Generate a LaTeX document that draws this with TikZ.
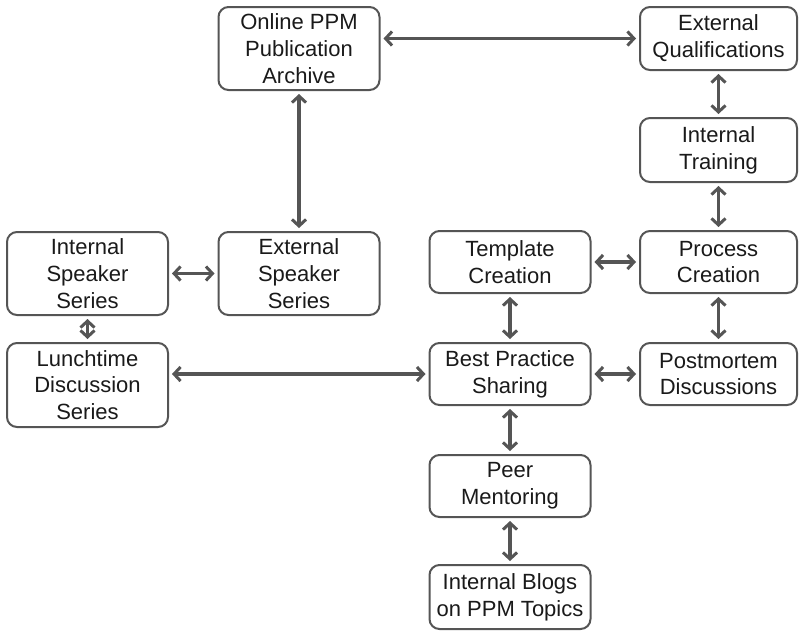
\documentclass[tikz,border=0pt]{standalone}
\usepackage{fontspec}
\setmainfont{Liberation Sans}
\usetikzlibrary{arrows.meta}
\definecolor{edgegray}{HTML}{555555}
\definecolor{inkgray}{HTML}{1A1A1A}
\begin{document}
\begin{tikzpicture}[x=1pt,y=-1pt,
  box/.style={draw=edgegray, line width=2pt, rounded corners=10pt, fill=white,
    text=inkgray, align=center, inner sep=0pt, minimum width=161pt,
    font=\fontsize{22}{26.8}\selectfont},
  wide/.style={box, minimum width=161pt},
  narrow/.style={box, minimum width=157pt},
  link/.style={draw=edgegray, line width=3.5pt,
    {Straight Barb[length=6.5pt,width=14pt,line width=3pt]}-{Straight Barb[length=6.5pt,width=14pt,line width=3pt]},
    shorten <=3pt, shorten >=3pt}]
\useasboundingbox (0,0) rectangle (800,630);

% first column
\node[wide, minimum height=83pt] (iss) at (87.5,273.5) {Internal\\Speaker\\Series};
\node[wide, minimum height=84pt] (lds) at (87.5,385) {Lunchtime\\Discussion\\Series};

% second column
\node[wide, minimum height=83pt] (opa) at (299,48.5) {Online PPM\\Publication\\Archive};
\node[wide, minimum height=83pt] (ess) at (299,273.5) {External\\Speaker\\Series};

% third column
\node[wide, minimum height=62pt] (tc)  at (510,262) {Template\\Creation};
\node[wide, minimum height=62pt] (bps) at (510,374) {Best Practice\\Sharing};
\node[wide, minimum height=62pt] (pm)  at (510,486) {Peer\\Mentoring};
\node[wide, minimum height=64pt] (ib)  at (510,597) {Internal Blogs\\on PPM Topics};

% fourth column
\node[narrow, minimum height=63pt] (eq)  at (718.5,38.5) {External\\Qualifications};
\node[narrow, minimum height=64pt] (it)  at (718.5,150) {Internal\\Training};
\node[narrow, minimum height=62pt] (pc)  at (718.5,262) {Process\\Creation};
\node[narrow, minimum height=62pt] (pmd) at (718.5,374) {Postmortem\\Discussions};

% connectors
\draw[link] (opa.east |- eq.west) -- (eq.west);
\draw[link] (opa.south) -- (ess.north);
\draw[link] (eq.south) -- (it.north);
\draw[link] (it.south) -- (pc.north);
\draw[link] (iss.east) -- (ess.west);
\draw[link] (tc.east) -- (pc.west);
\draw[link] (iss.south) -- (lds.north);
\draw[link] (tc.south) -- (bps.north);
\draw[link] (pc.south) -- (pmd.north);
\draw[link] (lds.east |- bps.west) -- (bps.west);
\draw[link] (bps.east) -- (pmd.west);
\draw[link] (bps.south) -- (pm.north);
\draw[link] (pm.south) -- (ib.north);
\end{tikzpicture}
\end{document}
